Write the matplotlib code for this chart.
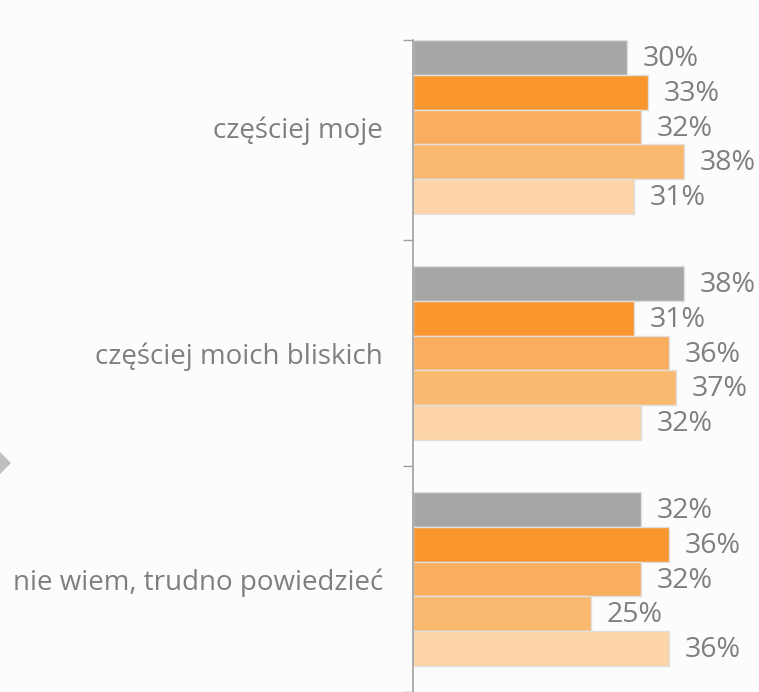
import matplotlib.pyplot as plt
from matplotlib.patches import Polygon

kategorie = ["częściej moje", "częściej moich bliskich", "nie wiem, trudno powiedzieć"]

# wartości serii (w %), kolejność od górnego słupka w grupie
seria1 = [30, 38, 32]
seria2 = [33, 31, 36]
seria3 = [32, 36, 32]
seria4 = [38, 37, 25]
seria5 = [31, 32, 36]

serie = [seria1, seria2, seria3, seria4, seria5]
kolory = ["#A6A6A6", "#F9962D", "#F9AD5E", "#FBB96F", "#FCD4A7"]

tlo = "#FCFCFC"
szary_tekst = "#7F7F7F"

fig = plt.figure(figsize=(7.59, 6.92), dpi=100, facecolor=tlo)
W, H = 759, 692
ax = fig.add_axes([413 / W, 0, 1 - 413 / W, (692 - 40) / H])
ax.set_facecolor(tlo)

krok = 6.5          # odstęp między środkami grup
wys = 1.0           # wysokość słupka
for i, kat in enumerate(kategorie):
    srodek = i * krok
    for j, (s, k) in enumerate(zip(serie, kolory)):
        y = srodek + (j - 2) * wys
        ax.barh(y, s[i], height=wys, color=k, edgecolor="#E0E0E0", linewidth=1.0)
        ax.text(s[i] + 2.2, y + 0.05, f"{s[i]}%", va="center", ha="left",
                fontsize=20.5, color=szary_tekst, family="Open Sans")

ax.set_xlim(0, (W - 413) / 7.12)
ax.set_ylim(2 * krok + 3.25, -2.5)

ax.set_yticks([i * krok for i in range(len(kategorie))])
ax.set_yticklabels(kategorie, fontsize=20, color=szary_tekst, family="Open Sans")
ax.set_yticks([-2.5] + [i * krok + 3.25 for i in range(len(kategorie))], minor=True)
ax.tick_params(axis="y", which="major", length=0, pad=21.5)
ax.tick_params(axis="y", which="minor", length=7, color="#A0A0A0", width=1)
ax.set_xticks([])

for strona in ["top", "right", "bottom"]:
    ax.spines[strona].set_visible(False)
ax.spines["left"].set_color("#A0A0A0")
ax.spines["left"].set_linewidth(1.2)

# szara strzałka przy lewej krawędzi
fig.patches.append(Polygon([(0, 1 - 452 / H), (11 / W, 1 - 463 / H), (0, 1 - 474 / H)],
                           closed=True, transform=fig.transFigure,
                           facecolor="#BFBFBF", edgecolor="none"))

fig.savefig("out.png", dpi=100, facecolor=tlo)
